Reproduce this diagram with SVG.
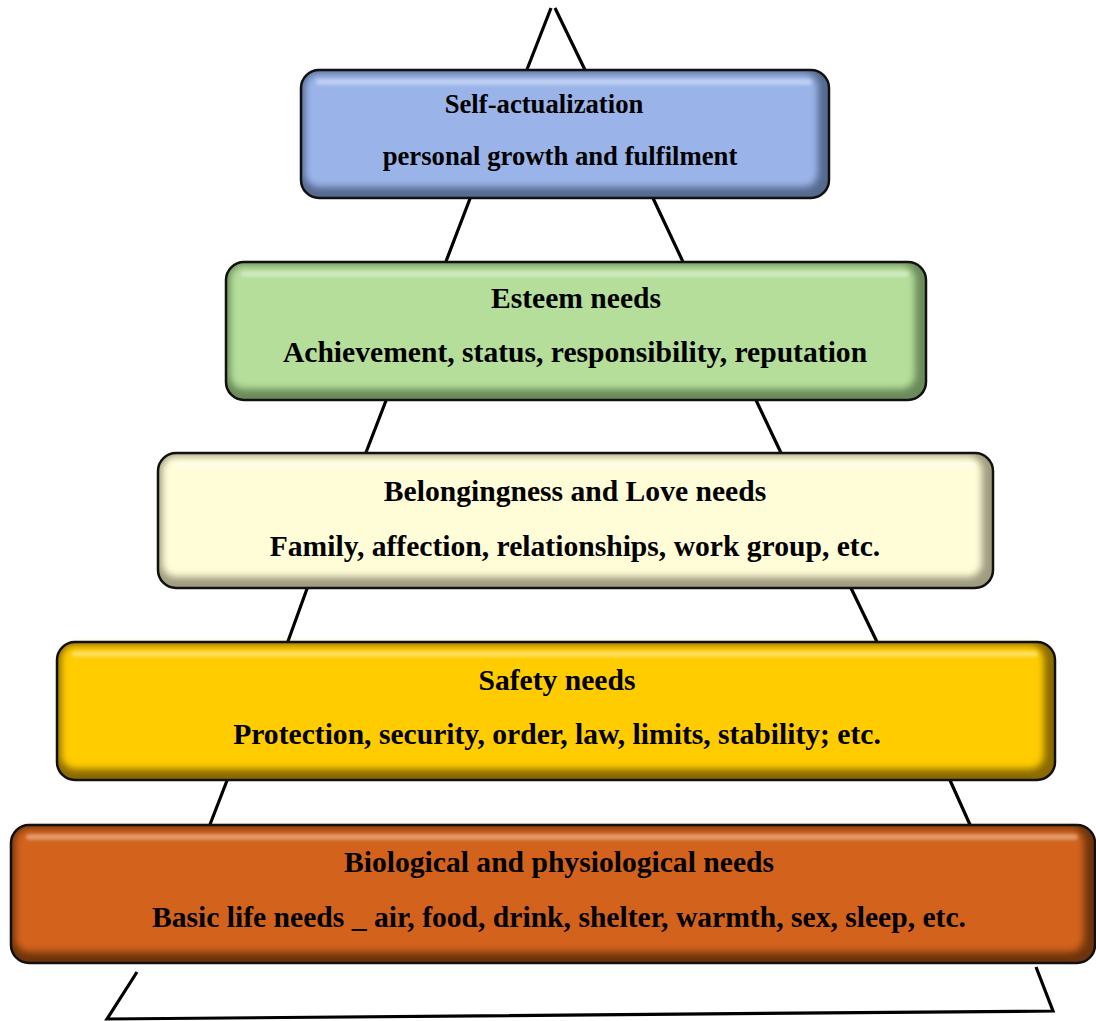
<svg xmlns="http://www.w3.org/2000/svg" width="1096" height="1021" viewBox="0 0 1096 1021">
<style>
.tri{fill:none;stroke:#000;stroke-width:3.2;stroke-linejoin:miter}
.edge{fill:none;stroke:#111;stroke-width:2.5}
.in{filter:url(#soft)}
.hl{fill:#fff;opacity:.35;filter:url(#soft2)}
.t{font-family:"Liberation Serif","Times New Roman",serif;font-weight:bold;fill:#000;text-anchor:middle}
.t1{font-size:26.7px}
.t2{font-size:29.6px}
</style>
<defs>
<filter id="soft" x="-5%" y="-10%" width="110%" height="120%"><feGaussianBlur stdDeviation="3.5"/></filter>
<filter id="soft2" x="-5%" y="-50%" width="110%" height="200%"><feGaussianBlur stdDeviation="1.5"/></filter>
</defs>
<g id="connectors">
<path class="tri" d="M551,8 L526,72 M555,8 L586,72 M471,196 L445,264 M652,196 L684,264 M387,398 L365,455 M755,398 L782,455 M308,586 L287,644 M850,586 L878,644 M228,778 L209,827 M949,778 L971,827 M137,972 L107,1019 L1053,1011 L1036,967"/>
</g>
<g id="self-actualization">
<rect x="301" y="70" width="528" height="128" rx="18" fill="#56698F"/>
<rect class="in" x="305" y="73" width="513" height="114" rx="14" fill="#9AB4E9"/>
<rect class="hl" x="316" y="79" width="496" height="6" rx="3"/>
<rect class="edge" x="301" y="70" width="528" height="128" rx="18"/>
<text class="t t1" x="544" y="113">Self-actualization</text>
<text class="t t1" x="560" y="165">personal growth and fulfilment</text>
</g>
<g id="esteem">
<rect x="226" y="262" width="700" height="138" rx="18" fill="#6B8A5A"/>
<rect class="in" x="230" y="265" width="685" height="124" rx="14" fill="#B4DE9A"/>
<rect class="hl" x="241" y="271" width="668" height="6" rx="3"/>
<rect class="edge" x="226" y="262" width="700" height="138" rx="18"/>
<text class="t t2" x="576" y="308">Esteem needs</text>
<text class="t t2" x="575" y="362">Achievement, status, responsibility, reputation</text>
</g>
<g id="belongingness">
<rect x="158" y="453" width="835" height="135" rx="18" fill="#A09C80"/>
<rect class="in" x="162" y="456" width="820" height="121" rx="14" fill="#FFFCD8"/>
<rect class="hl" x="173" y="462" width="803" height="6" rx="3"/>
<rect class="edge" x="158" y="453" width="835" height="135" rx="18"/>
<text class="t t2" x="575" y="501">Belongingness and Love needs</text>
<text class="t t2" x="575" y="556">Family, affection, relationships, work group, etc.</text>
</g>
<g id="safety">
<rect x="57" y="642" width="998" height="138" rx="18" fill="#8A6A00"/>
<rect class="in" x="61" y="645" width="983" height="124" rx="14" fill="#FFCC06"/>
<rect class="hl" x="72" y="651" width="966" height="6" rx="3"/>
<rect class="edge" x="57" y="642" width="998" height="138" rx="18"/>
<text class="t t2" x="557" y="690">Safety needs</text>
<text class="t t2" x="557" y="744">Protection, security, order, law, limits, stability; etc.</text>
</g>
<g id="biological">
<rect x="11" y="825" width="1084" height="138" rx="18" fill="#6E340C"/>
<rect class="in" x="15" y="828" width="1069" height="124" rx="14" fill="#D2621A"/>
<rect class="hl" x="26" y="834" width="1052" height="6" rx="3"/>
<rect class="edge" x="11" y="825" width="1084" height="138" rx="18"/>
<text class="t t2" x="559" y="872">Biological and physiological needs</text>
<text class="t t2" x="559" y="927">Basic life needs _ air, food, drink, shelter, warmth, sex, sleep, etc.</text>
</g>
</svg>
